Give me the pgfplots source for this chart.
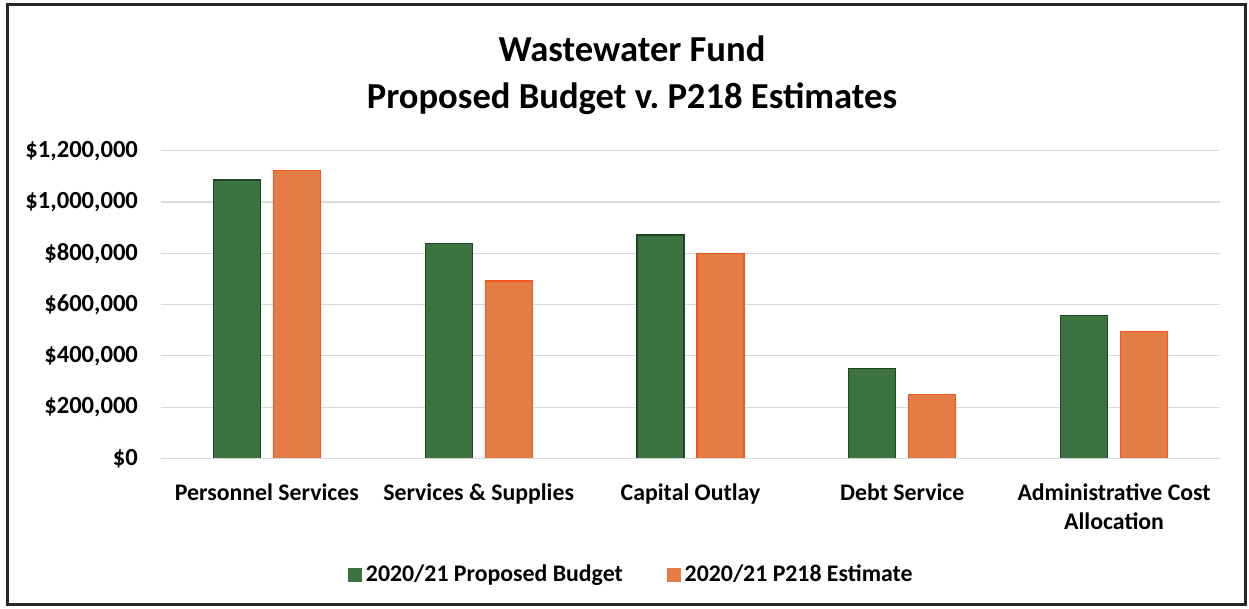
\documentclass[border=0pt]{standalone}
\usepackage{pgfplots}
\pgfplotsset{compat=1.18}
\usepackage{fontspec}
\setmainfont{Carlito}
\definecolor{bgreen}{HTML}{3D7241}
\definecolor{bgreenline}{HTML}{1E4623}
\definecolor{porange}{HTML}{E37D45}
\definecolor{porangeline}{HTML}{F0561E}
\definecolor{gridgray}{HTML}{D9D9D9}
\newcommand\lbl{\fontsize{11.9}{14.5}\selectfont\bfseries}
\newcommand\ylbl{\fontsize{12.3}{14.5}\selectfont\bfseries}

\begin{document}
\begin{tikzpicture}
  \useasboundingbox (-80.5pt,-75.25pt) rectangle (544pt,229.25pt);
  \draw[line width=1.5pt, black!85] (-76.5pt,-73.25pt) rectangle (542pt,226.75pt);
  \node[font=\fontsize{18.3}{23.5}\selectfont\bfseries, align=center] at (235.5pt,191.5pt)
    {Wastewater Fund\\Proposed Budget v.\ P218 Estimates};
  \begin{axis}[
      width=529.5pt, height=153.9pt,
      scale only axis,
      xmin=-0.5, xmax=4.5,
      ymin=0, ymax=1200000,
      scaled y ticks=false,
      axis line style={draw=none},
      ybar=6.5pt,
      bar width=23.5pt,
      xtick=data,
      xticklabels={Personnel Services, Services \& Supplies, Capital Outlay, Debt Service, {Administrative Cost\\Allocation}},
      xticklabel style={font=\lbl, align=center, anchor=north, yshift=-9pt},
      ytick={0,200000,400000,600000,800000,1000000,1200000},
      yticklabels={\$0,{\$200,000},{\$400,000},{\$600,000},{\$800,000},{\$1,000,000},{\$1,200,000}},
      yticklabel style={font=\ylbl, anchor=east, xshift=-8pt},
      major tick length=0pt,
      ymajorgrids=true,
      grid style={gridgray, line width=0.6pt},
      legend style={at={(0.445,-0.378)}, anchor=center, draw=none, fill=none,
        legend columns=2, font=\lbl,
        /tikz/every even column/.append style={column sep=20pt}},
      legend image code/.code={\draw[#1, draw=none] (0pt,-3.5pt) rectangle (7pt,3.5pt);},
    ]
    \addplot[fill=bgreen, draw=bgreenline, line width=0.6pt]
      coordinates {(0,1086000) (1,839000) (2,871000) (3,352000) (4,557000)};
    \addplot[fill=porange, draw=porangeline, line width=0.6pt]
      coordinates {(0,1122000) (1,692000) (2,798000) (3,251000) (4,494000)};
    \draw[gridgray, line width=0.8pt] (axis cs:-0.5,0) -- (axis cs:4.5,0);
    \legend{2020/21 Proposed Budget, 2020/21 P218 Estimate}
  \end{axis}
\end{tikzpicture}
\end{document}
